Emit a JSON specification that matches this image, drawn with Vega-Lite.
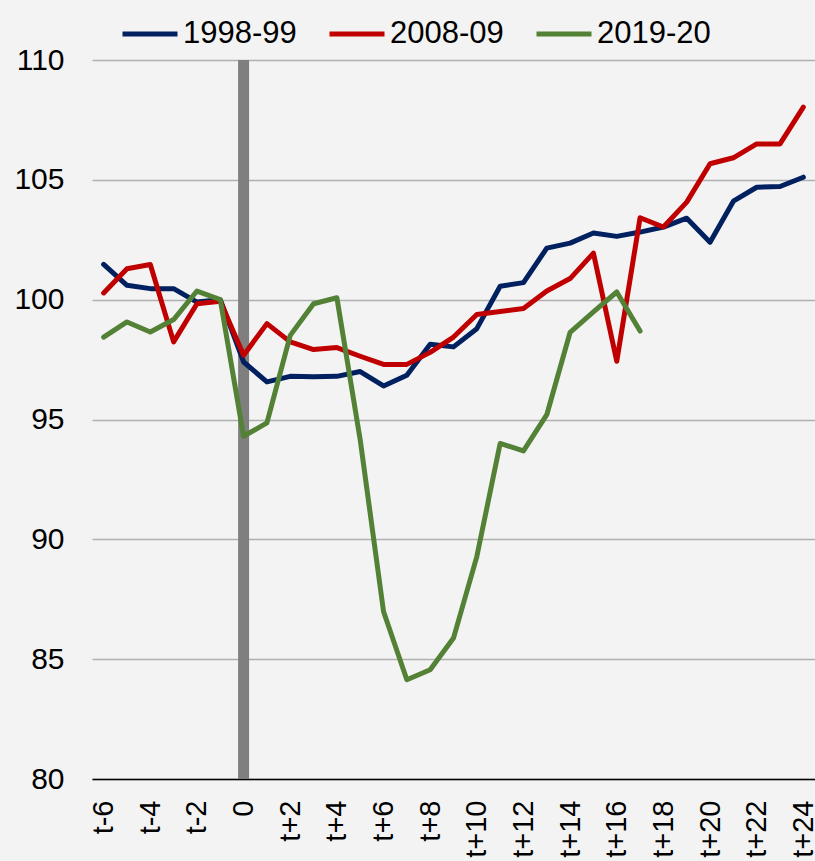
{
  "$schema": "https://vega.github.io/schema/vega-lite/v6.json",
  "width": 723,
  "height": 719,
  "autosize": {"type": "none"},
  "padding": {"left": 92, "top": 60, "right": 0, "bottom": 82},
  "background": "#f3f3f3",
  "config": {
    "view": {"stroke": null},
    "font": "Liberation Sans",
    "axis": {"labelFont": "Liberation Sans", "labelColor": "#000000"}
  },
  "datasets": {
    "series": [
      {"t": "t-6", "s": "1998-99", "v": 101.47},
      {"t": "t-5", "s": "1998-99", "v": 100.6},
      {"t": "t-4", "s": "1998-99", "v": 100.46},
      {"t": "t-3", "s": "1998-99", "v": 100.46},
      {"t": "t-2", "s": "1998-99", "v": 99.9},
      {"t": "t-1", "s": "1998-99", "v": 100.0},
      {"t": "0", "s": "1998-99", "v": 97.4},
      {"t": "t+1", "s": "1998-99", "v": 96.57},
      {"t": "t+2", "s": "1998-99", "v": 96.8},
      {"t": "t+3", "s": "1998-99", "v": 96.78},
      {"t": "t+4", "s": "1998-99", "v": 96.8},
      {"t": "t+5", "s": "1998-99", "v": 97.0},
      {"t": "t+6", "s": "1998-99", "v": 96.4},
      {"t": "t+7", "s": "1998-99", "v": 96.85},
      {"t": "t+8", "s": "1998-99", "v": 98.14},
      {"t": "t+9", "s": "1998-99", "v": 98.03},
      {"t": "t+10", "s": "1998-99", "v": 98.79},
      {"t": "t+11", "s": "1998-99", "v": 100.56},
      {"t": "t+12", "s": "1998-99", "v": 100.71},
      {"t": "t+13", "s": "1998-99", "v": 102.15},
      {"t": "t+14", "s": "1998-99", "v": 102.36},
      {"t": "t+15", "s": "1998-99", "v": 102.78},
      {"t": "t+16", "s": "1998-99", "v": 102.64},
      {"t": "t+17", "s": "1998-99", "v": 102.82},
      {"t": "t+18", "s": "1998-99", "v": 103.03},
      {"t": "t+19", "s": "1998-99", "v": 103.4},
      {"t": "t+20", "s": "1998-99", "v": 102.4},
      {"t": "t+21", "s": "1998-99", "v": 104.11},
      {"t": "t+22", "s": "1998-99", "v": 104.69},
      {"t": "t+23", "s": "1998-99", "v": 104.72},
      {"t": "t+24", "s": "1998-99", "v": 105.11},
      {"t": "t-6", "s": "2008-09", "v": 100.28},
      {"t": "t-5", "s": "2008-09", "v": 101.29},
      {"t": "t-4", "s": "2008-09", "v": 101.47},
      {"t": "t-3", "s": "2008-09", "v": 98.24},
      {"t": "t-2", "s": "2008-09", "v": 99.83},
      {"t": "t-1", "s": "2008-09", "v": 99.93},
      {"t": "0", "s": "2008-09", "v": 97.68},
      {"t": "t+1", "s": "2008-09", "v": 99.0},
      {"t": "t+2", "s": "2008-09", "v": 98.24},
      {"t": "t+3", "s": "2008-09", "v": 97.92},
      {"t": "t+4", "s": "2008-09", "v": 98.0},
      {"t": "t+5", "s": "2008-09", "v": 97.64},
      {"t": "t+6", "s": "2008-09", "v": 97.3},
      {"t": "t+7", "s": "2008-09", "v": 97.3},
      {"t": "t+8", "s": "2008-09", "v": 97.8},
      {"t": "t+9", "s": "2008-09", "v": 98.44},
      {"t": "t+10", "s": "2008-09", "v": 99.38},
      {"t": "t+11", "s": "2008-09", "v": 99.51},
      {"t": "t+12", "s": "2008-09", "v": 99.63},
      {"t": "t+13", "s": "2008-09", "v": 100.36},
      {"t": "t+14", "s": "2008-09", "v": 100.88},
      {"t": "t+15", "s": "2008-09", "v": 101.94},
      {"t": "t+16", "s": "2008-09", "v": 97.43},
      {"t": "t+17", "s": "2008-09", "v": 103.42},
      {"t": "t+18", "s": "2008-09", "v": 103.03},
      {"t": "t+19", "s": "2008-09", "v": 104.07},
      {"t": "t+20", "s": "2008-09", "v": 105.67},
      {"t": "t+21", "s": "2008-09", "v": 105.92},
      {"t": "t+22", "s": "2008-09", "v": 106.5},
      {"t": "t+23", "s": "2008-09", "v": 106.5},
      {"t": "t+24", "s": "2008-09", "v": 108.03},
      {"t": "t-6", "s": "2019-20", "v": 98.44},
      {"t": "t-5", "s": "2019-20", "v": 99.07},
      {"t": "t-4", "s": "2019-20", "v": 98.65},
      {"t": "t-3", "s": "2019-20", "v": 99.17},
      {"t": "t-2", "s": "2019-20", "v": 100.36},
      {"t": "t-1", "s": "2019-20", "v": 100.0},
      {"t": "0", "s": "2019-20", "v": 94.3},
      {"t": "t+1", "s": "2019-20", "v": 94.86},
      {"t": "t+2", "s": "2019-20", "v": 98.51},
      {"t": "t+3", "s": "2019-20", "v": 99.83},
      {"t": "t+4", "s": "2019-20", "v": 100.08},
      {"t": "t+5", "s": "2019-20", "v": 94.15},
      {"t": "t+6", "s": "2019-20", "v": 86.99},
      {"t": "t+7", "s": "2019-20", "v": 84.14},
      {"t": "t+8", "s": "2019-20", "v": 84.56},
      {"t": "t+9", "s": "2019-20", "v": 85.88},
      {"t": "t+10", "s": "2019-20", "v": 89.28},
      {"t": "t+11", "s": "2019-20", "v": 94.0},
      {"t": "t+12", "s": "2019-20", "v": 93.69},
      {"t": "t+13", "s": "2019-20", "v": 95.2},
      {"t": "t+14", "s": "2019-20", "v": 98.64},
      {"t": "t+15", "s": "2019-20", "v": 99.49},
      {"t": "t+16", "s": "2019-20", "v": 100.32},
      {"t": "t+17", "s": "2019-20", "v": 98.69}
    ],
    "marker": [{"t": "0"}]
  },
  "layer": [
    {
      "data": {"name": "marker"},
      "mark": {"type": "rule", "color": "#7f7f7f", "strokeWidth": 11},
      "encoding": {
        "x": {"field": "t", "type": "nominal"}
      }
    },
    {
      "data": {"name": "series"},
      "mark": {"type": "line", "strokeWidth": 5, "strokeCap": "round", "strokeJoin": "round"},
      "encoding": {
        "x": {
          "field": "t",
          "type": "nominal",
          "scale": {
            "type": "point",
            "padding": 0.5,
            "domain": ["t-6","t-5","t-4","t-3","t-2","t-1","0","t+1","t+2","t+3","t+4","t+5","t+6","t+7","t+8","t+9","t+10","t+11","t+12","t+13","t+14","t+15","t+16","t+17","t+18","t+19","t+20","t+21","t+22","t+23","t+24"]
          },
          "axis": {
            "title": null,
            "values": ["t-6","t-4","t-2","0","t+2","t+4","t+6","t+8","t+10","t+12","t+14","t+16","t+18","t+20","t+22","t+24"],
            "labelAngle": -90,
            "labelFontSize": 29,
            "labelPadding": 21,
            "ticks": false,
            "domainColor": "#000000",
            "domainWidth": 1.5,
            "grid": false
          }
        },
        "y": {
          "field": "v",
          "type": "quantitative",
          "scale": {"domain": [80, 110], "nice": false, "zero": false},
          "axis": {
            "title": null,
            "values": [80, 85, 90, 95, 100, 105, 110],
            "labelFontSize": 30,
            "labelPadding": 28,
            "ticks": false,
            "domain": false,
            "grid": true,
            "gridColor": "#b0b0b0",
            "gridWidth": 1.5
          }
        },
        "color": {
          "field": "s",
          "type": "nominal",
          "scale": {"domain": ["1998-99", "2008-09", "2019-20"], "range": ["#002060", "#c00000", "#538135"]},
          "legend": {
            "title": null,
            "orient": "none",
            "direction": "horizontal",
            "legendX": 28,
            "legendY": -56,
            "symbolType": "stroke",
            "symbolSize": 3025,
            "symbolStrokeWidth": 5,
            "labelFontSize": 31,
            "labelFont": "Liberation Sans",
            "labelColor": "#000000",
            "labelOffset": 3,
            "columnPadding": 22,
            "padding": 0
          }
        }
      }
    }
  ]
}
